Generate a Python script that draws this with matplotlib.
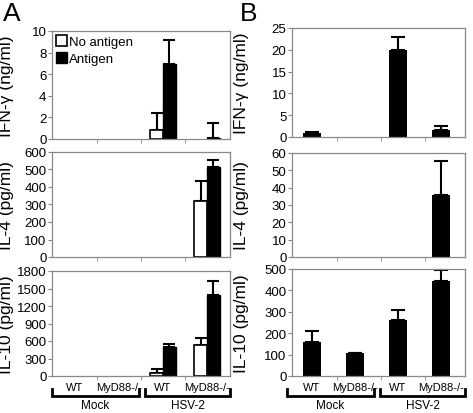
import matplotlib
matplotlib.use("Agg")
from matplotlib import pyplot as plt
from matplotlib.patches import Patch
import numpy as np

plt.rcParams['font.family'] = ['Liberation Sans', 'DejaVu Sans']

groups = ['WT', 'MyD88-/-', 'WT', 'MyD88-/-']
infections = ['Mock', 'HSV-2']

# panel A: no antigen / antigen
a_ifn_no = [0, 0, 0.8, 0]
a_ifn_no_err = [0, 0, 1.6, 0]
a_ifn_ag = [0, 0, 6.9, 0.1]
a_ifn_ag_err = [0, 0, 2.3, 1.4]
a_il4_no = [0, 0, 0, 322]
a_il4_no_err = [0, 0, 0, 111]
a_il4_ag = [0, 0, 0, 514]
a_il4_ag_err = [0, 0, 0, 38]
a_il10_no = [0, 0, 46, 535]
a_il10_no_err = [0, 0, 69, 115]
a_il10_ag = [0, 0, 489, 1397]
a_il10_ag_err = [0, 0, 57, 230]

# panel B: antigen only
b_ifn = [0.85, 0, 20.0, 1.5]
b_ifn_err = [0.35, 0, 2.9, 1.0]
b_il4 = [0, 0, 0, 35.5]
b_il4_err = [0, 0, 0, 20]
b_il10 = [161, 106, 262, 442]
b_il10_err = [47, 3, 46, 55]

ylabels = ['IFN-\u03b3 (ng/ml)', 'IL-4 (pg/ml)', 'IL-10 (pg/ml)']
a_ylims = [(0, 10, 2), (0, 600, 100), (0, 1800, 300)]
b_ylims = [(0, 25, 5), (0, 60, 10), (0, 500, 100)]

W, H = 473, 414
fig = plt.figure(figsize=(W / 100, H / 100), dpi=100)


def px_axes(left, top, right, bottom):
    return fig.add_axes([left / W, 1 - bottom / H, (right - left) / W, (bottom - top) / H])


def style(ax, ylim, xlim, minor, label, labx, bottom):
    ax.set_xlim(*xlim)
    ax.set_ylim(ylim[0], ylim[1])
    ax.set_yticks(np.arange(ylim[0], ylim[1] + ylim[2] / 2, ylim[2]))
    for s in ax.spines.values():
        s.set_color('#888888')
        s.set_linewidth(0.9)
    ax.tick_params(axis='y', direction='out', length=3, color='#888888', labelsize=9.5, pad=1)
    ax.set_xticks(minor, minor=True)
    ax.tick_params(axis='x', which='minor', direction='out', length=3, color='#888888')
    ax.set_xticks(range(4))
    if bottom:
        ax.set_xticklabels(groups, fontsize=8)
    else:
        ax.set_xticklabels([])
    ax.tick_params(axis='x', which='major', length=0, pad=4)
    ax.set_ylabel(label, fontsize=12.5)
    ax.yaxis.set_label_coords(labx, 0.5)


def errs(ax, x, vals, err, cap):
    x = np.asarray(x, dtype=float)
    vals = np.asarray(vals, dtype=float)
    err = np.asarray(err, dtype=float)
    m = err > 0
    ax.errorbar(x[m], vals[m], yerr=[np.zeros(m.sum()), err[m]], fmt='none',
                ecolor='black', elinewidth=1.5, capsize=cap, capthick=1.5, zorder=1)


def bracket(ax, spans, y0, y1, ty):
    tr = ax.get_xaxis_transform()
    for (x0, x1), name in zip(spans, infections):
        ax.plot([x0, x0, x1, x1], [y1, y0, y0, y1], color='black', lw=2,
                transform=tr, clip_on=False, solid_joinstyle='miter')
        ax.text((x0 + x1) / 2, ty, name, transform=tr, ha='center', va='center', fontsize=8.5)


x = np.arange(4)

# panel A
a_boxes = [(52, 32, 230, 140), (52, 153, 230, 258), (52, 272, 230, 377)]
a_data = [(a_ifn_no, a_ifn_no_err, a_ifn_ag, a_ifn_ag_err),
          (a_il4_no, a_il4_no_err, a_il4_ag, a_il4_ag_err),
          (a_il10_no, a_il10_no_err, a_il10_ag, a_il10_ag_err)]
w = 0.29
for i, (box, (no, no_e, ag, ag_e)) in enumerate(zip(a_boxes, a_data)):
    ax = px_axes(*box)
    no_a = np.array(no, dtype=float)
    ag_a = np.array(ag, dtype=float)
    mn = no_a > 0
    ma = ag_a > 0
    ax.bar(x[mn] - w / 2, no_a[mn], w, color='white', edgecolor='black', linewidth=1.2, zorder=2)
    ax.bar(x[ma] + w / 2, ag_a[ma], w, color='black', edgecolor='black', linewidth=1.0, zorder=2)
    errs(ax, x - w / 2, no, no_e, 4)
    errs(ax, x + w / 2, ag, ag_e, 4)
    style(ax, a_ylims[i], (-0.523, 3.523), [0.5, 1.5, 2.5], ylabels[i], -0.215, i == 2)
    if i == 0:
        handles = [Patch(facecolor='white', edgecolor='black', linewidth=1.2, label='No antigen'),
                   Patch(facecolor='black', edgecolor='black', label='Antigen')]
        ax.legend(handles=handles, loc='upper left', frameon=False, fontsize=9.5,
                  handlelength=0.8, handleheight=0.9, handletextpad=0.2,
                  borderaxespad=0.1, borderpad=0.2, labelspacing=0.3)
    if i == 2:
        bracket(ax, [(-0.52, 1.45), (1.6, 3.52)], -0.19, -0.125, -0.275)

# panel B
b_boxes = [(292, 29, 465, 138), (292, 154, 465, 258), (292, 270, 465, 377)]
b_data = [(b_ifn, b_ifn_err), (b_il4, b_il4_err), (b_il10, b_il10_err)]
wb = 0.41
for i, (box, (v, e)) in enumerate(zip(b_boxes, b_data)):
    ax = px_axes(*box)
    va = np.array(v, dtype=float)
    m = va > 0
    ax.bar(x[m], va[m], wb, color='black', zorder=2)
    errs(ax, x, v, e, 5)
    style(ax, b_ylims[i], (-0.465, 3.558), [0.58, 1.6, 2.63], ylabels[i], -0.25, i == 2)
    if i == 2:
        bracket(ax, [(-0.58, 1.44), (1.58, 3.56)], -0.19, -0.125, -0.275)

fig.text(3 / W, 1 - 2 / H, 'A', fontsize=19, ha='left', va='top')
fig.text(240 / W, 1 - 2 / H, 'B', fontsize=19, ha='left', va='top')

fig.savefig('out.png', dpi=100)
